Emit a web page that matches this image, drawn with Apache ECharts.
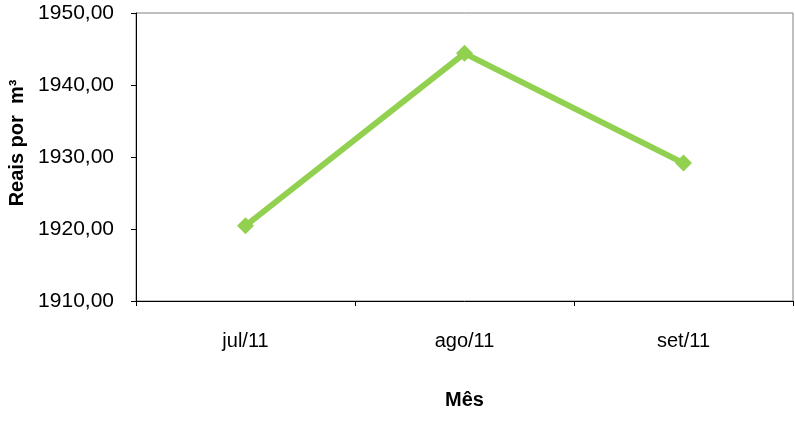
<!DOCTYPE html>
<html>
<head>
    <meta charset="UTF-8">
    <title>Reais por m³</title>
    <script src="https://cdn.jsdelivr.net/npm/echarts@6/dist/echarts.min.js"></script>
    <style>
        html, body { margin: 0; padding: 0; background: #fff; }
        #chart { width: 795px; height: 421px; }
    </style>
</head>
<body>
<div id="chart"></div>
<script>
    var meses = ['jul/11', 'ago/11', 'set/11'];
    var valores = [1920.45, 1944.40, 1929.15];
    var yMin = 1910, yMax = 1950, yPasso = 10;

    var chart = echarts.init(document.getElementById('chart'));
    chart.setOption({
        animation: false,
        grid: {
            left: 136, right: 2, top: 13, bottom: 120,
            outerBoundsMode: 'none',
            show: true, borderColor: '#808080', borderWidth: 1
        },
        xAxis: {
            type: 'category',
            data: meses,
            boundaryGap: true,
            name: 'Mês',
            nameLocation: 'middle',
            nameGap: 89,
            nameTextStyle: { fontFamily: 'Liberation Sans', fontSize: 20, fontWeight: 'bold', color: '#000' },
            axisLine: { lineStyle: { color: '#000', width: 1 } },
            axisTick: { show: true, length: 5, inside: false, lineStyle: { color: '#000' } },
            axisLabel: { margin: 30, fontFamily: 'Liberation Sans', fontSize: 20, color: '#000' }
        },
        yAxis: {
            type: 'value',
            min: yMin, max: yMax, interval: yPasso,
            name: 'Reais por  m³',
            nameLocation: 'middle',
            nameGap: 108,
            nameTextStyle: {
                fontFamily: 'Liberation Sans', fontSize: 20, fontWeight: 'bold', color: '#000',
                padding: [0, 0, 0, 28]
            },
            axisLine: { show: true, lineStyle: { color: '#000', width: 1 } },
            axisTick: { show: true, length: 5, lineStyle: { color: '#000' } },
            splitLine: { show: false },
            axisLabel: {
                margin: 22, fontFamily: 'Liberation Sans', fontSize: 21, color: '#000',
                formatter: function (v) { return v.toFixed(2).replace('.', ','); }
            }
        },
        series: [{
            type: 'line',
            data: valores,
            symbol: 'diamond',
            symbolSize: 17,
            lineStyle: { color: '#92D050', width: 6 },
            itemStyle: { color: '#92D050' }
        }]
    });
</script>
</body>
</html>
